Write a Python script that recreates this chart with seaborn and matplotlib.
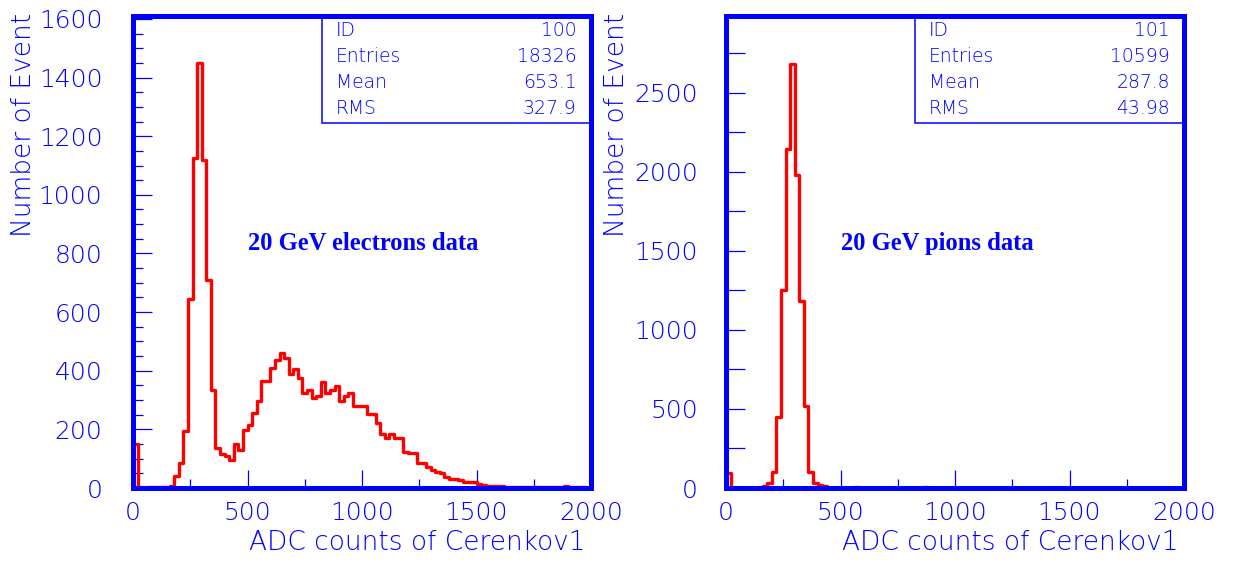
import numpy as np
import pandas as pd
import matplotlib
matplotlib.use("Agg")
import matplotlib.pyplot as plt
from matplotlib.patches import Rectangle
from matplotlib.ticker import MultipleLocator
import seaborn as sns

# ADC histogram binning: 100 bins of 20 counts from 0 to 2000
bin_width = 20
adc_range = (0, 2000)
bin_centers = np.arange(adc_range[0], adc_range[1], bin_width) + bin_width / 2

# Cerenkov1 ADC spectrum, 20 GeV electron run (events per bin)
electron_counts = [
    150, 2, 1, 2, 3, 2, 4, 5, 8, 40,
    86, 194, 644, 1125, 1450, 1120, 711, 335, 137, 117,
    109, 97, 149, 128, 198, 214, 257, 297, 365, 365,
    411, 436, 462, 445, 390, 405, 374, 325, 333, 308,
    314, 363, 325, 333, 348, 297, 314, 325, 280, 280,
    280, 251, 251, 223, 183, 172, 183, 172, 170, 122,
    120, 118, 86, 86, 72, 60, 55, 50, 38, 31,
    29, 28, 21, 20, 19, 12, 11, 7, 6, 8,
    7, 5, 4, 3, 4, 4, 3, 3, 4, 3,
    4, 3, 2, 4, 8, 3, 2, 3, 2, 1,
]

# Cerenkov1 ADC spectrum, 20 GeV pion run (events per bin)
pion_counts = [
    95, 2, 1, 1, 2, 2, 3, 5, 10, 30,
    100, 451, 1251, 2141, 2684, 1977, 1184, 521, 100, 30,
    18, 10, 3, 2, 2, 1, 1, 1, 6, 1,
    1, 1, 1, 0, 1, 1, 0, 1, 1, 0,
    1, 1, 0, 6, 1, 0, 1, 0, 0, 1,
    0, 0, 1, 0, 0, 0, 1, 0, 0, 0,
    0, 1, 0, 0, 0, 0, 0, 1, 0, 0,
    0, 0, 0, 0, 1, 0, 0, 0, 0, 0,
    0, 0, 0, 0, 0, 0, 0, 1, 0, 0,
    0, 0, 0, 0, 0, 0, 0, 0, 0, 1,
]

panel_titles = ["20 GeV electrons data", "20 GeV pions data"]
stats_labels = ["ID", "Entries", "Mean", "RMS"]
electron_stats = ["100", "18326", "653.1", "327.9"]
pion_stats = ["101", "10599", "287.8", "43.98"]
x_label = "ADC counts of Cerenkov1"
y_label = "Number of Event"
x_ticks = [0, 500, 1000, 1500, 2000]
electron_y_ticks = [0, 200, 400, 600, 800, 1000, 1200, 1400, 1600]
pion_y_ticks = [0, 500, 1000, 1500, 2000, 2500]

sns.set_style("white")
plt.rcParams["font.family"] = ["DejaVu Sans"]
plt.rcParams["font.weight"] = "light"
plt.rcParams["axes.labelweight"] = "light"

BLUE = "#0000ff"
W, H = 1237, 569
fig = plt.figure(figsize=(W / 100, H / 100), dpi=100)
fig.patch.set_facecolor("white")

ax_l = fig.add_axes([133 / W, (H - 488) / H, 458 / W, 472 / H])
ax_r = fig.add_axes([726 / W, (H - 488) / H, 458 / W, 472 / H])

panels = [
    (ax_l, electron_counts, electron_stats, panel_titles[0], 1610,
     electron_y_ticks, 50, 7, 22),
    (ax_r, pion_counts, pion_stats, panel_titles[1], 2985,
     pion_y_ticks, 250, 14, 20),
]

for ax, counts, stats, title, ymax, yticks, ymin, minor_len, ypad in panels:
    df = pd.DataFrame({"adc": bin_centers, "events": counts})
    sns.histplot(data=df, x="adc", weights="events", binwidth=bin_width,
                 binrange=adc_range, element="step", fill=False,
                 color="red", linewidth=2.4, ax=ax)
    ax.set_xlim(*adc_range)
    ax.set_ylim(0, ymax)
    ax.set_facecolor("white")
    ax.grid(False)

    for sp in ax.spines.values():
        sp.set_visible(True)
        sp.set_color(BLUE)
        sp.set_linewidth(3.6)

    ax.set_xticks(x_ticks)
    ax.xaxis.set_minor_locator(MultipleLocator(250))
    ax.set_yticks(yticks)
    ax.yaxis.set_minor_locator(MultipleLocator(ymin))

    ax.tick_params(axis="both", which="both", direction="in",
                   colors=BLUE, width=0.9, bottom=True, left=True,
                   top=False, right=False)
    ax.tick_params(axis="x", which="major", length=13, pad=9, labelsize=18)
    ax.tick_params(axis="x", which="minor", length=6.5)
    ax.tick_params(axis="y", which="major", length=14, pad=ypad, labelsize=18)
    ax.tick_params(axis="y", which="minor", length=minor_len)

    ax.set_xlabel(x_label, fontsize=19, color=BLUE, fontweight="light")
    ax.xaxis.set_label_coords(0.988, -0.089)
    ax.xaxis.label.set_horizontalalignment("right")
    ax.xaxis.label.set_verticalalignment("top")

    ax.set_ylabel(y_label, fontsize=19, color=BLUE, fontweight="light")
    ax.yaxis.set_label_coords(-0.240, 1.006)
    ax.yaxis.label.set_horizontalalignment("right")
    ax.yaxis.label.set_verticalalignment("center")

    # statistics box in the upper right corner
    box_x, box_y = 0.4127, 0.773
    ax.add_patch(Rectangle((box_x, box_y), 1 - box_x, 1 - box_y,
                           transform=ax.transAxes, fill=False,
                           edgecolor=BLUE, linewidth=1.1, zorder=3))
    for row_y, lab, val in zip([0.970, 0.914, 0.859, 0.805], stats_labels, stats):
        ax.text(0.443, row_y, lab, transform=ax.transAxes, fontsize=13.5,
                color=BLUE, ha="left", va="center")
        ax.text(0.969, row_y, val, transform=ax.transAxes, fontsize=13.5,
                color=BLUE, ha="right", va="center")

    ax.text(0.252, 0.519, title, transform=ax.transAxes, fontsize=17.7,
            fontweight="bold", family="Liberation Serif", color=BLUE,
            ha="left", va="center")

fig.savefig("out.png", dpi=100, facecolor="white")
